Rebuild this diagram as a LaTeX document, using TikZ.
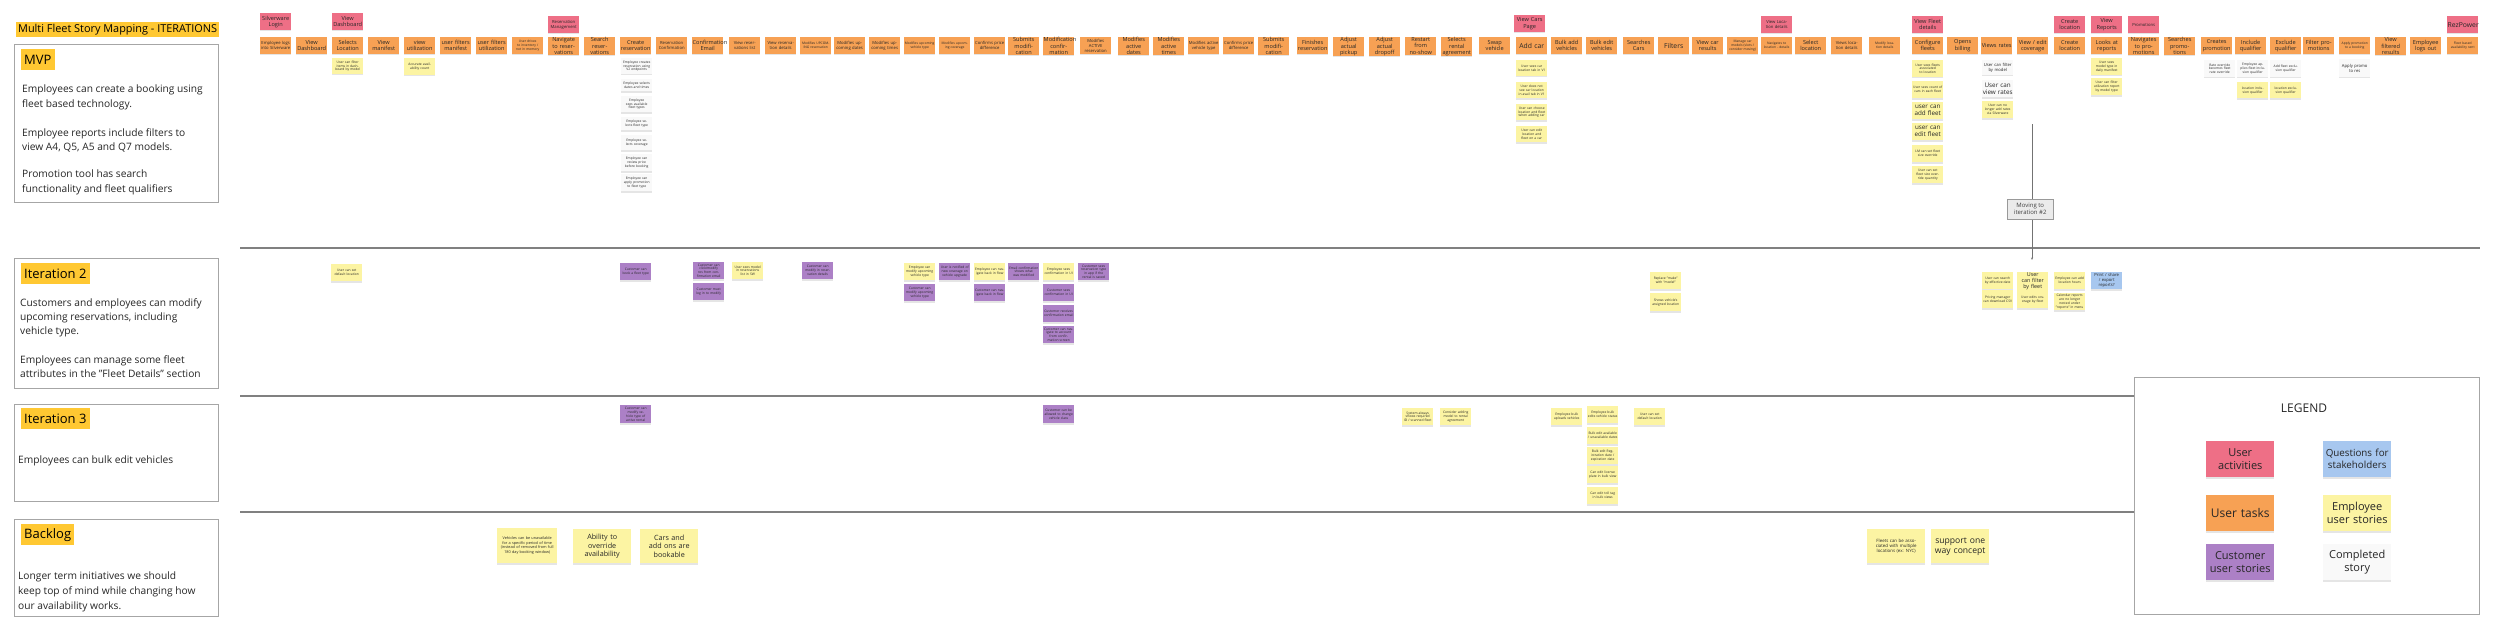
\documentclass[tikz,border=0pt]{standalone}
\usepackage{fontspec}
\setmainfont{Open Sans}
\usetikzlibrary{shadows,arrows.meta}
\definecolor{actc}{HTML}{EE6F86}
\definecolor{taskc}{HTML}{F7A154}
\definecolor{empc}{HTML}{FCF4A3}
\definecolor{cusc}{HTML}{AC80C6}
\definecolor{donec}{HTML}{F9F9F9}
\definecolor{quesc}{HTML}{A7C7EF}
\definecolor{gold}{HTML}{FFC832}
\tikzset{
  sticky/.style={anchor=north west, minimum width=31pt, minimum height=17pt, inner sep=0.4pt, text width=30pt, align=center, font=\fontsize{5.6}{6.3}\selectfont, text=black!85, drop shadow={shadow xshift=0pt, shadow yshift=-1.3pt, opacity=0.2}},
  act/.style={sticky, fill=actc},
  task/.style={sticky, fill=taskc},
  emp/.style={sticky, fill=empc},
  cus/.style={sticky, fill=cusc},
  done/.style={sticky, fill=donec},
  ques/.style={sticky, fill=quesc},
  sm/.style={font=\fontsize{4.2}{4.8}\selectfont},
  tn/.style={font=\fontsize{3.3}{3.9}\selectfont},
  lg/.style={font=\fontsize{6.8}{7.8}\selectfont},
  ht/.style={minimum height=#1},
  big/.style={minimum width=58pt, text width=56pt, minimum height=34pt},
  leg/.style={minimum width=68pt, text width=66pt, minimum height=36pt, font=\fontsize{11}{13}\selectfont},
  panel/.style={draw=black!35, line width=0.8pt, anchor=north west, inner sep=0pt},
  hl/.style={fill=gold, anchor=north west, inner xsep=3pt, inner ysep=2pt, minimum height=21pt, font=\fontsize{13}{15}\selectfont},
  body/.style={anchor=north west, inner sep=0pt, align=left, font=\fontsize{10.2}{14.3}\selectfont, text=black!85},
  sep/.style={draw=black!50, line width=1.4pt},
}
\begin{document}
\begin{tikzpicture}[x=1pt,y=-1pt]
\useasboundingbox[fill=white] (0,0) rectangle (2500,634);

% ---------- left panel ----------
\node[anchor=north west, fill=gold, inner xsep=2pt, inner ysep=1.5pt, minimum height=15pt, font=\fontsize{10.9}{12}\selectfont] (title) at (16,22) {Multi Fleet Story Mapping - ITERATIONS};

\node[panel, minimum width=204pt, minimum height=158pt] (mvpbox) at (14,44) {};
\node[hl] (mvph) at (21,49) {MVP};
\node[body] (mvp1) at (22,85) {Employees can create a booking using\\fleet based technology.};
\node[body] (mvp2) at (22,128) {Employee reports include filters to\\view A4, Q5, A5 and Q7 models.};
\node[body] (mvp3) at (22,170) {Promotion tool has search\\functionality and fleet qualifiers};

\node[panel, minimum width=204pt, minimum height=130pt] (it2box) at (14,258) {};
\node[hl] (it2h) at (21,263) {Iteration 2};
\node[body] (it2a) at (20,298) {Customers and employees can modify\\upcoming reservations, including\\vehicle type.};
\node[body] (it2b) at (20,355) {Employees can manage some fleet\\attributes in the "Fleet Details" section};

\node[panel, minimum width=204pt, minimum height=97pt] (it3box) at (14,404) {};
\node[hl] (it3h) at (21,408) {Iteration 3};
\node[body] (it3a) at (18,456) {Employees can bulk edit vehicles};

\node[panel, minimum width=204pt, minimum height=97pt] (blbox) at (14,519) {};
\node[hl] (blh) at (21,524) {Backlog};
\node[body, font=\fontsize{10.2}{15}\selectfont] (bla) at (18,572) {Longer term initiatives we should\\keep top of mind while changing how\\our availability works.};

% ---------- separators ----------
\coordinate (l1a) at (240,248); \coordinate (l1b) at (2480,248);
\coordinate (l2a) at (240,396); \coordinate (l2b) at (2134,396);
\coordinate (l3a) at (240,512); \coordinate (l3b) at (2134,512);
\draw[sep] (l1a) -- (l1b);
\draw[sep] (l2a) -- (l2b);
\draw[sep] (l3a) -- (l3b);

% ---------- activities ----------
\node[act] (a1) at (260,13) {Silverware Login};
\node[act] (a2) at (332,13) {View Dashboard};
\node[act, sm] (a3) at (548,16) {Reservation Management};
\node[act] (a4) at (1514,15) {View Cars Page};
\node[act, sm] (a5) at (1761,16) {View Location details};
\node[act] (a6) at (1912,16) {View Fleet details};
\node[act] (a7) at (2054,16) {Create location};
\node[act] (a8) at (2091,16) {View Reports};
\node[act, sm] (a9) at (2128,16) {Promotions};
\node[act, lg] (a10) at (2447,16) {RezPower};

% ---------- tasks ----------
\node[task, sm] (t1) at (260,37) {Employee logs into Silverware};
\node[task] (t2) at (296,37) {View Dashboard};
\node[task] (t3) at (332,37) {Selects Location};
\node[task] (t4) at (368,37) {View manifest};
\node[task] (t5) at (404,37) {view utilization};
\node[task] (t6) at (440,37) {user filters manifest};
\node[task] (t7) at (476,37) {user filters utilization};
\node[task, tn] (t8) at (512,37) {User drives to inventory / not in memory};
\node[task] (t9) at (548,37) {Navigate to reservations};
\node[task] (t10) at (584,37) {Search reservations};
\node[task] (t11) at (620,37) {Create reservation};
\node[task, sm] (t12) at (656,37) {Reservation Confirmation};
\node[task] (t13) at (692,37) {Confirmation Email};
\node[task, sm] (t14) at (729,37) {View reservations list};
\node[task, sm] (t15) at (765,37) {View reservation details};
\node[task, tn] (t16) at (800,37) {Modifies UPCOMING reservation};
\node[task, sm] (t17) at (834,37) {Modifies upcoming dates};
\node[task, sm] (t18) at (869,37) {Modifies upcoming times};
\node[task, tn] (t19) at (904,37) {Modifies upcoming vehicle type};
\node[task, tn] (t20) at (939,37) {Modifies upcoming coverage};
\node[task, sm] (t21) at (974,37) {Confirms price difference};
\node[task] (t22) at (1008,37) {Submits modification};
\node[task] (t23) at (1043,37) {Modification confirmation};
\node[task, sm] (t24) at (1080,37) {Modifies ACTIVE reservation};
\node[task] (t25) at (1118,37) {Modifies active dates};
\node[task] (t26) at (1153,37) {Modifies active times};
\node[task, sm] (t27) at (1188,37) {Modifies active vehicle type};
\node[task, sm] (t28) at (1223,37) {Confirms price difference};
\node[task] (t29) at (1258,37) {Submits modification};
\node[task] (t30) at (1297,37) {Finishes reservation};
\node[task] (t31) at (1333,37) {Adjust actual pickup};
\node[task] (t32) at (1369,37) {Adjust actual dropoff};
\node[task] (t33) at (1405,37) {Restart from no-show};
\node[task] (t34) at (1441,37) {Selects rental agreement};
\node[task] (t35) at (1479,37) {Swap vehicle};
\node[task, lg] (t36) at (1516,37) {Add car};
\node[task] (t37) at (1551,37) {Bulk add vehicles};
\node[task] (t38) at (1586,37) {Bulk edit vehicles};
\node[task] (t39) at (1623,37) {Searches Cars};
\node[task, lg] (t40) at (1658,37) {Filters};
\node[task] (t41) at (1692,37) {View car results};
\node[task, tn] (t42) at (1727,37) {Manage car models (slots / consider moving)};
\node[task, tn] (t43) at (1761,37) {Navigates to location - details};
\node[task] (t44) at (1795,37) {Select location};
\node[task, sm] (t45) at (1831,37) {Views location details};
\node[task, tn] (t46) at (1869,37) {Modify location details};
\node[task] (t47) at (1912,37) {Configure fleets};
\node[task] (t48) at (1947,37) {Opens billing};
\node[task] (t49) at (1981,37) {Views rates};
\node[task] (t50) at (2017,37) {View / edit coverage};
\node[task] (t51) at (2054,37) {Create location};
\node[task] (t52) at (2091,37) {Looks at reports};
\node[task] (t53) at (2128,37) {Navigates to promotions};
\node[task] (t54) at (2164,37) {Searches promotions};
\node[task] (t55) at (2201,37) {Creates promotion};
\node[task] (t56) at (2235,37) {Include qualifier};
\node[task] (t57) at (2270,37) {Exclude qualifier};
\node[task] (t58) at (2303,37) {Filter promotions};
\node[task, tn] (t59) at (2339,37) {Apply promotion to a booking};
\node[task] (t60) at (2375,37) {View filtered results};
\node[task] (t61) at (2410,37) {Employee logs out};
\node[task, tn] (t62) at (2447,37) {Fleet based availability sent};

% ---------- MVP stories ----------
\node[emp, tn, ht=16pt] (m1) at (332,58) {User can filter items in dashboard by model};
\node[emp, tn] (m2) at (404,58) {Accurate availability count};
\node[done, tn, ht=16pt] (c1) at (621,58) {Employee creates reservation using V2 endpoints};
\node[done, tn, ht=12pt] (c2) at (621,79) {Employee selects dates and times};
\node[done, tn, ht=16pt] (c3) at (621,96) {Employee sees available fleet types};
\node[done, tn, ht=13pt] (c4) at (621,117) {Employee selects fleet type};
\node[done, tn, ht=15pt] (c5) at (621,135) {Employee selects coverage};
\node[done, tn] (c6) at (621,154) {Employee can review price before booking};
\node[done, tn] (c7) at (621,174) {Employee can apply promotion to fleet type};

\node[emp, tn, ht=16pt] (k1) at (1516,60) {User sees car location tab in V1};
\node[emp, tn, ht=16pt] (k2) at (1516,82) {User does not see car location in avail tab in V1};
\node[emp, tn, ht=16pt] (k3) at (1516,104) {User can choose location and fleet when adding car};
\node[emp, tn, ht=16pt] (k4) at (1516,126) {User can edit location and fleet on a car};

\node[emp, tn] (f1) at (1912,60) {User sees fleets associated to location};
\node[emp, tn] (f2) at (1912,81) {User sees count of cars in each fleet};
\node[emp, font=\fontsize{6.3}{7.2}\selectfont] (f3) at (1912,102) {user can add fleet};
\node[emp, font=\fontsize{6.3}{7.2}\selectfont] (f4) at (1912,123) {user can edit fleet};
\node[emp, tn] (f5) at (1912,145) {LM can set fleet size override};
\node[emp, tn] (f6) at (1912,166) {User can set fleet size override quantity};

\node[done, sm, ht=15pt] (r1) at (1982,60) {User can filter by model};
\node[done, font=\fontsize{6.3}{7.2}\selectfont] (r2) at (1982,80) {User can view rates};
\node[emp, tn] (r3) at (1982,101) {User can no longer add rates via Silverware};

\node[emp, tn] (p1) at (2091,58) {User sees model type in daily manifest};
\node[emp, tn] (p2) at (2091,78) {User can filter utilization report by model type};
\node[done, tn] (q1) at (2204,60) {Rate override becomes fleet rate override};
\node[done, tn] (q2) at (2237,60) {Employee applies fleet inclusion qualifier};
\node[emp, tn, ht=16pt] (q3) at (2237,82) {location inclusion qualifier};
\node[done, tn] (q4) at (2270,60) {Add fleet exclusion qualifier};
\node[emp, tn, ht=16pt] (q5) at (2270,82) {location exclusion qualifier};
\node[done, sm, ht=18pt] (q6) at (2339,59) {Apply promo to res};

% moving arrow
\coordinate (mvs) at (2032,124);
\coordinate (mve) at (2032,260);
\draw[black!55, line width=0.5pt, -{Stealth[length=2.5pt,width=2pt]}] (mvs) -- (mve);
\node[anchor=north west, draw=black!40, fill=black!8, minimum width=46pt, minimum height=20pt, inner sep=0.5pt, align=center, font=\fontsize{6}{7}\selectfont, text=black!75] (moving) at (2007,199) {Moving to\\iteration \#2};

% ---------- Iteration 2 ----------
\node[emp, tn] (i1) at (331,264) {User can set default location};
\node[cus, tn] (i2) at (620,263) {Customer can book a fleet type};
\node[cus, tn] (i3) at (693,262) {Customer can click/modify res from confirmation email};
\node[cus, tn] (i4) at (693,283) {Customer must log in to modify};
\node[emp, tn] (i5) at (732,262) {User sees model in reservations list in SW};
\node[cus, tn] (i6) at (802,262) {Customer can modify in reservation details};
\node[emp, tn] (i7) at (904,263) {Employee can modify upcoming vehicle type};
\node[cus, tn] (i8) at (904,284) {Customer can modify upcoming vehicle type};
\node[cus, tn] (i9) at (939,263) {User is notified of new coverage on vehicle upgrade};
\node[emp, tn] (i10) at (974,263) {Employee can navigate back in flow};
\node[cus, tn] (i11) at (974,284) {Customer can navigate back in flow};
\node[cus, tn] (i12) at (1008,263) {Email confirmation shows what was modified};
\node[emp, tn] (i13) at (1043,263) {Employee sees confirmation in UI};
\node[cus, tn] (i14) at (1043,284) {Customer sees confirmation in UI};
\node[cus, tn] (i15) at (1043,305) {Customer receives confirmation email};
\node[cus, tn] (i16) at (1043,326) {Customer can navigate to account from confirmation screen};
\node[cus, tn] (i17) at (1078,263) {Customer sees reservation type in app if the rental is saved};
\node[emp, tn] (i18) at (1650,272) {Replace "make" with "model"};
\node[emp, tn, ht=18pt] (i19) at (1650,293) {Shows vehicle's assigned location};
\node[emp, tn] (i20) at (1982,272) {User can search by effective date};
\node[emp, tn, ht=18pt] (i21) at (1982,290) {Pricing manager can download CSV};
\node[emp, font=\fontsize{5.4}{6.2}\selectfont] (i22) at (2017,272) {User can filter by fleet};
\node[emp, tn, ht=18pt] (i23) at (2017,290) {User edits coverage by fleet};
\node[emp, tn] (i24) at (2054,272) {Employee can add location hours};
\node[emp, tn] (i25) at (2054,293) {Calendar reports are no longer nested under "reports" in menu};
\node[ques, sm] (i26) at (2091,272) {Print / share / export reports?};

% ---------- Iteration 3 ----------
\node[cus, tn, ht=18pt] (j1) at (620,405) {Customer can modify vehicle type of active rental};
\node[cus, tn, ht=18pt] (j2) at (1043,405) {Customer can be allowed to change vehicle class};
\node[emp, tn] (j3) at (1402,408) {System always shows required ID / scanned fleet};
\node[emp, tn] (j4) at (1440,408) {Consider adding model to rental agreement};
\node[emp, tn] (j5) at (1551,408) {Employee bulk uploads vehicles};
\node[emp, tn] (j6) at (1587,406) {Employee bulk edits vehicle status};
\node[emp, tn] (j7) at (1587,427) {Bulk edit available / unavailable dates};
\node[emp, tn] (j8) at (1587,447) {Bulk edit Registration date / expiration date};
\node[emp, tn] (j9) at (1587,466) {Can edit license plate in bulk view};
\node[emp, tn] (j10) at (1587,487) {Can edit toll tag in bulk views};
\node[emp, tn] (j11) at (1634,408) {User can set default location};

% ---------- Backlog ----------
\node[emp, big, minimum width=60pt, text width=58pt, minimum height=35pt, font=\fontsize{3.8}{4.6}\selectfont] (b1) at (497,528) {Vehicles can be unavailable for a specific period of time (instead of removed from full 180 day booking window)};
\node[emp, big, font=\fontsize{7.2}{8.4}\selectfont] (b2) at (573,529) {Ability to override availability};
\node[emp, big, font=\fontsize{7.2}{8.4}\selectfont] (b3) at (640,529) {Cars and add ons are bookable};
\node[emp, big, font=\fontsize{4.4}{5.4}\selectfont] (b4) at (1867,529) {Fleets can be associated with multiple locations (ex: NYC)};
\node[emp, big, font=\fontsize{8.6}{10}\selectfont] (b5) at (1931,529) {support one way concept};

% ---------- Legend ----------
\node[panel, minimum width=345pt, minimum height=237pt, fill=white] (legbox) at (2134,377) {};
\node[font=\fontsize{12}{14}\selectfont, text=black!85] (legt) at (2304,408) {LEGEND};
\node[act, leg] (g1) at (2206,441) {User activities};
\node[ques, leg, font=\fontsize{9.8}{12}\selectfont] (g2) at (2323,441) {Questions for stakeholders};
\node[task, leg, font=\fontsize{12}{14}\selectfont] (g3) at (2206,495) {User tasks};
\node[emp, leg] (g4) at (2323,495) {Employee user stories};
\node[cus, leg] (g5) at (2206,544) {Customer user stories};
\node[done, leg] (g6) at (2323,544) {Completed story};
\end{tikzpicture}
\end{document}
